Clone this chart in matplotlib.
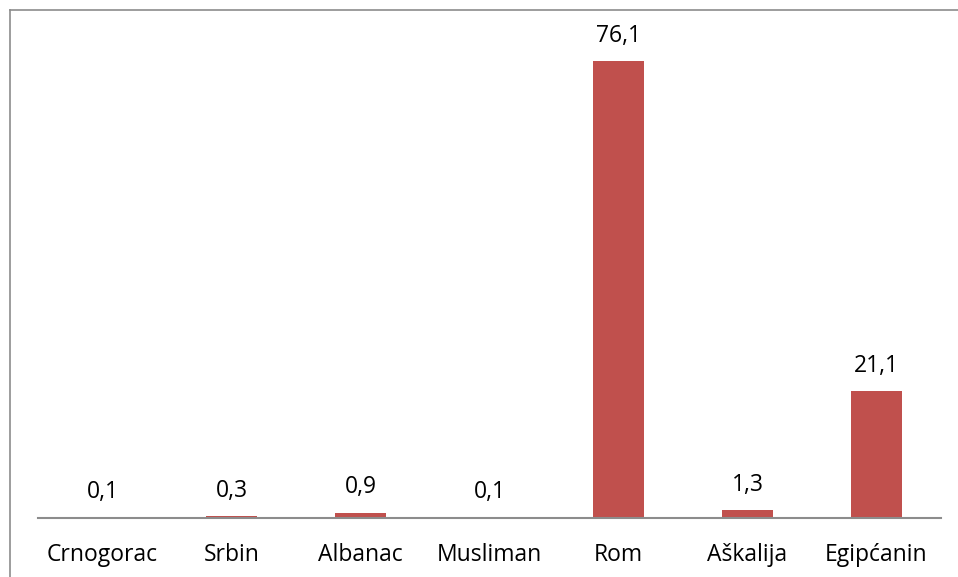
import matplotlib
matplotlib.use("Agg")
import matplotlib.pyplot as plt
from matplotlib.lines import Line2D

categories = ["Crnogorac", "Srbin", "Albanac", "Musliman", "Rom", "Aškalija", "Egipćanin"]
values = [0.1, 0.3, 0.9, 0.1, 76.1, 1.3, 21.1]
labels = ["0,1", "0,3", "0,9", "0,1", "76,1", "1,3", "21,1"]

plt.rcParams["font.family"] = ["Open Sans", "DejaVu Sans"]

W, H = 958, 577
fig = plt.figure(figsize=(W / 100, H / 100), dpi=100)
fig.patch.set_facecolor("white")

# frame of the chart area (only left and top edges visible)
fig.add_artist(Line2D([9.5 / W, 9.5 / W], [0, 1 - 9.5 / H], transform=fig.transFigure,
                      color="#8c8c8c", linewidth=1.2))
fig.add_artist(Line2D([9.5 / W, 1], [1 - 9.5 / H, 1 - 9.5 / H], transform=fig.transFigure,
                      color="#8c8c8c", linewidth=1.2))

ax = fig.add_axes([38 / W, 59 / H, (941 - 38) / W, (518 - 10) / H])
x = range(len(categories))
ax.bar(x, values, width=0.4, color="#C0504D")
ax.set_xlim(-0.5, len(categories) - 0.5)
ax.set_ylim(0, (518 - 10) / 6.0)

for i, (v, lab) in enumerate(zip(values, labels)):
    ax.annotate(lab, (i, v), xytext=(0, 9.5), textcoords="offset points",
                ha="center", va="bottom", fontsize=16.5, color="black")

for s in ["left", "right", "top"]:
    ax.spines[s].set_visible(False)
ax.spines["bottom"].set_color("#8c8c8c")
ax.spines["bottom"].set_linewidth(1.5)
ax.set_yticks([])
ax.set_xticks(list(x))
ax.set_xticklabels(categories, fontsize=16.5)
ax.tick_params(axis="x", length=0, pad=18)

plt.savefig("out.png", dpi=100, facecolor="white")
